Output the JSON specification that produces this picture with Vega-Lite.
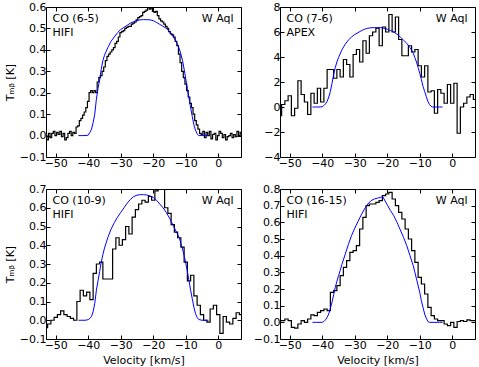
{
  "$schema": "https://vega.github.io/schema/vega-lite/v6.json",
  "padding": {"left": 3, "top": 0, "right": 0, "bottom": 0},
  "background": "white",
  "datasets": {
    "o1": [
      {"v":-53,"t":0.0},{"v":-52.5,"t":-0.02},{"v":-52,"t":0.01},{"v":-51.5,"t":-0.01},{"v":-51,"t":0.01},{"v":-50.5,"t":0.02},{"v":-50,"t":0.0},{"v":-49.5,"t":0.015},{"v":-49,"t":0.005},{"v":-48.5,"t":0.02},{"v":-48,"t":-0.005},{"v":-47.5,"t":0.01},{"v":-47,"t":-0.02},{"v":-46.5,"t":-0.01},{"v":-46,"t":0.01},{"v":-45.5,"t":0.02},{"v":-45,"t":0.0},{"v":-44.5,"t":0.015},{"v":-44,"t":0.01},{"v":-43.5,"t":0.04},{"v":-43,"t":0.045},{"v":-42.5,"t":0.07},{"v":-42,"t":0.08},{"v":-41.5,"t":0.095},{"v":-41,"t":0.11},{"v":-40.5,"t":0.13},{"v":-40,"t":0.16},{"v":-39.5,"t":0.2},{"v":-39,"t":0.21},{"v":-38.5,"t":0.2},{"v":-38,"t":0.21},{"v":-37.5,"t":0.2},{"v":-37,"t":0.25},{"v":-36.5,"t":0.27},{"v":-36,"t":0.28},{"v":-35.5,"t":0.3},{"v":-35,"t":0.32},{"v":-34.5,"t":0.35},{"v":-34,"t":0.37},{"v":-33.5,"t":0.38},{"v":-33,"t":0.39},{"v":-32.5,"t":0.4},{"v":-32,"t":0.41},{"v":-31.5,"t":0.43},{"v":-31,"t":0.44},{"v":-30.5,"t":0.46},{"v":-30,"t":0.48},{"v":-29.5,"t":0.485},{"v":-29,"t":0.49},{"v":-28.5,"t":0.5},{"v":-28,"t":0.505},{"v":-27.5,"t":0.51},{"v":-27,"t":0.51},{"v":-26.5,"t":0.52},{"v":-26,"t":0.525},{"v":-25.5,"t":0.53},{"v":-25,"t":0.54},{"v":-24.5,"t":0.55},{"v":-24,"t":0.555},{"v":-23.5,"t":0.56},{"v":-23,"t":0.575},{"v":-22.5,"t":0.58},{"v":-22,"t":0.585},{"v":-21.5,"t":0.6},{"v":-21,"t":0.59},{"v":-20.5,"t":0.595},{"v":-20,"t":0.58},{"v":-19.5,"t":0.575},{"v":-19,"t":0.58},{"v":-18.5,"t":0.56},{"v":-18,"t":0.545},{"v":-17.5,"t":0.535},{"v":-17,"t":0.53},{"v":-16.5,"t":0.52},{"v":-16,"t":0.51},{"v":-15.5,"t":0.5},{"v":-15,"t":0.485},{"v":-14.5,"t":0.475},{"v":-14,"t":0.47},{"v":-13.5,"t":0.46},{"v":-13,"t":0.44},{"v":-12.5,"t":0.42},{"v":-12,"t":0.38},{"v":-11.5,"t":0.34},{"v":-11,"t":0.3},{"v":-10.5,"t":0.27},{"v":-10,"t":0.24},{"v":-9.5,"t":0.21},{"v":-9,"t":0.18},{"v":-8.5,"t":0.15},{"v":-8,"t":0.13},{"v":-7.5,"t":0.1},{"v":-7,"t":0.07},{"v":-6.5,"t":0.05},{"v":-6,"t":0.03},{"v":-5.5,"t":0.01},{"v":-5,"t":0.005},{"v":-4.5,"t":0.02},{"v":-4,"t":-0.01},{"v":-3.5,"t":0.015},{"v":-3,"t":0.0},{"v":-2.5,"t":0.02},{"v":-2,"t":-0.015},{"v":-1.5,"t":0.005},{"v":-1,"t":0.01},{"v":-0.5,"t":-0.02},{"v":0,"t":0.0},{"v":0.5,"t":0.02},{"v":1,"t":0.01},{"v":1.5,"t":-0.01},{"v":2,"t":0.005},{"v":2.5,"t":-0.02},{"v":3,"t":-0.005},{"v":3.5,"t":0.0},{"v":4,"t":0.01},{"v":4.5,"t":-0.01},{"v":5,"t":0.005},{"v":5.5,"t":-0.005},{"v":6,"t":0.02},{"v":6.5,"t":0.0},{"v":7,"t":0.015}
    ],
    "m1": [
      {"v":-43,"t":0},{"v":-42,"t":0},{"v":-41,"t":0},{"v":-40,"t":0.002},{"v":-39.5,"t":0.015},{"v":-39,"t":0.03},{"v":-38.5,"t":0.06},{"v":-38,"t":0.1},{"v":-37.5,"t":0.17},{"v":-37,"t":0.22},{"v":-36.5,"t":0.26},{"v":-36,"t":0.31},{"v":-35.5,"t":0.35},{"v":-35,"t":0.375},{"v":-34,"t":0.41},{"v":-33,"t":0.44},{"v":-32,"t":0.46},{"v":-31,"t":0.48},{"v":-30,"t":0.495},{"v":-29,"t":0.505},{"v":-28,"t":0.515},{"v":-27,"t":0.525},{"v":-26,"t":0.532},{"v":-25,"t":0.537},{"v":-24,"t":0.54},{"v":-23,"t":0.541},{"v":-22,"t":0.541},{"v":-21,"t":0.54},{"v":-20,"t":0.536},{"v":-19,"t":0.528},{"v":-18,"t":0.519},{"v":-17,"t":0.51},{"v":-16,"t":0.5},{"v":-15,"t":0.485},{"v":-14,"t":0.465},{"v":-13,"t":0.44},{"v":-12.5,"t":0.425},{"v":-12,"t":0.405},{"v":-11.5,"t":0.38},{"v":-11,"t":0.35},{"v":-10.5,"t":0.31},{"v":-10,"t":0.265},{"v":-9.5,"t":0.22},{"v":-9,"t":0.175},{"v":-8.5,"t":0.13},{"v":-8,"t":0.09},{"v":-7.5,"t":0.05},{"v":-7,"t":0.025},{"v":-6.5,"t":0.008},{"v":-6,"t":0},{"v":-5,"t":0},{"v":-4,"t":0},{"v":-3,"t":0}
    ],
    "o2": [
      {"v":-53,"t":-0.7},{"v":-52,"t":0.2},{"v":-51,"t":0.5},{"v":-50,"t":0.9},{"v":-49,"t":-0.7},{"v":-48,"t":-0.1},{"v":-47,"t":2.1},{"v":-46,"t":1.0},{"v":-45,"t":0.4},{"v":-44,"t":-0.6},{"v":-43,"t":1.1},{"v":-42,"t":0.3},{"v":-41,"t":1.5},{"v":-40,"t":0.4},{"v":-39,"t":1.5},{"v":-38,"t":3.0},{"v":-37,"t":3.0},{"v":-36,"t":2.3},{"v":-35,"t":3.0},{"v":-34,"t":2.4},{"v":-33,"t":3.8},{"v":-32,"t":3.4},{"v":-31,"t":2.4},{"v":-30,"t":4.2},{"v":-29,"t":4.6},{"v":-28,"t":3.6},{"v":-27,"t":5.3},{"v":-26,"t":4.3},{"v":-25,"t":5.7},{"v":-24,"t":6.0},{"v":-23,"t":6.3},{"v":-22,"t":4.9},{"v":-21,"t":6.4},{"v":-20,"t":6.0},{"v":-19,"t":7.4},{"v":-18,"t":6.0},{"v":-17,"t":7.2},{"v":-16,"t":5.4},{"v":-15,"t":4.1},{"v":-14,"t":4.1},{"v":-13,"t":4.9},{"v":-12,"t":4.4},{"v":-11,"t":4.6},{"v":-10,"t":3.3},{"v":-9,"t":2.4},{"v":-8,"t":3.3},{"v":-7,"t":1.2},{"v":-6,"t":1.3},{"v":-5,"t":-0.5},{"v":-4,"t":1.4},{"v":-3,"t":1.1},{"v":-2,"t":0.3},{"v":-1,"t":1.8},{"v":0,"t":0.3},{"v":1,"t":1.9},{"v":2,"t":-2.1},{"v":3,"t":0.0},{"v":4,"t":0.3},{"v":5,"t":0.8},{"v":6,"t":1.0},{"v":7,"t":0.6}
    ],
    "m2": [
      {"v":-43,"t":0},{"v":-42,"t":0},{"v":-41,"t":0},{"v":-40,"t":0.02},{"v":-39.5,"t":0.12},{"v":-39,"t":0.25},{"v":-38.5,"t":0.45},{"v":-38,"t":0.8},{"v":-37.5,"t":1.25},{"v":-37,"t":1.9},{"v":-36.5,"t":2.6},{"v":-36,"t":3.15},{"v":-35.5,"t":3.6},{"v":-35,"t":3.95},{"v":-34,"t":4.55},{"v":-33,"t":5.0},{"v":-32,"t":5.35},{"v":-31,"t":5.6},{"v":-30,"t":5.8},{"v":-29,"t":5.95},{"v":-28,"t":6.1},{"v":-27,"t":6.22},{"v":-26,"t":6.3},{"v":-25,"t":6.34},{"v":-24,"t":6.35},{"v":-23,"t":6.36},{"v":-22,"t":6.35},{"v":-21,"t":6.3},{"v":-20,"t":6.22},{"v":-19,"t":6.12},{"v":-18,"t":6.0},{"v":-17,"t":5.82},{"v":-16,"t":5.6},{"v":-15,"t":5.35},{"v":-14,"t":5.1},{"v":-13,"t":4.75},{"v":-12.5,"t":4.55},{"v":-12,"t":4.3},{"v":-11.5,"t":3.95},{"v":-11,"t":3.6},{"v":-10.5,"t":3.15},{"v":-10,"t":2.7},{"v":-9.5,"t":2.2},{"v":-9,"t":1.65},{"v":-8.5,"t":1.25},{"v":-8,"t":0.85},{"v":-7.5,"t":0.45},{"v":-7,"t":0.2},{"v":-6.5,"t":0.05},{"v":-6,"t":0},{"v":-5,"t":0},{"v":-4,"t":0},{"v":-3,"t":0}
    ],
    "o3": [
      {"v":-53,"t":-0.04},{"v":-52,"t":-0.02},{"v":-51,"t":0.0},{"v":-50,"t":0.015},{"v":-49,"t":0.03},{"v":-48,"t":0.05},{"v":-47,"t":0.03},{"v":-46,"t":0.02},{"v":-45,"t":0.01},{"v":-44,"t":0.0},{"v":-43,"t":0.1},{"v":-42,"t":0.16},{"v":-41,"t":0.13},{"v":-40,"t":0.15},{"v":-39,"t":0.11},{"v":-38,"t":0.25},{"v":-37,"t":0.3},{"v":-36,"t":0.31},{"v":-35,"t":0.22},{"v":-34,"t":0.22},{"v":-33,"t":0.22},{"v":-32,"t":0.38},{"v":-31,"t":0.44},{"v":-30,"t":0.4},{"v":-29,"t":0.43},{"v":-28,"t":0.5},{"v":-27,"t":0.46},{"v":-26,"t":0.55},{"v":-25,"t":0.59},{"v":-24,"t":0.62},{"v":-23,"t":0.64},{"v":-22,"t":0.63},{"v":-21,"t":0.66},{"v":-20,"t":0.64},{"v":-19,"t":0.69},{"v":-18,"t":0.7},{"v":-17,"t":0.7},{"v":-16,"t":0.6},{"v":-15,"t":0.57},{"v":-14,"t":0.51},{"v":-13,"t":0.47},{"v":-12,"t":0.44},{"v":-11,"t":0.39},{"v":-10,"t":0.31},{"v":-9,"t":0.21},{"v":-8,"t":0.24},{"v":-7,"t":0.13},{"v":-6,"t":0.08},{"v":-5,"t":0.03},{"v":-4,"t":0.0},{"v":-3,"t":-0.01},{"v":-2,"t":0.06},{"v":-1,"t":0.08},{"v":0,"t":0.03},{"v":1,"t":-0.07},{"v":2,"t":0.02},{"v":3,"t":-0.01},{"v":4,"t":-0.02},{"v":5,"t":0.01},{"v":6,"t":0.04},{"v":7,"t":0.03}
    ],
    "m3": [
      {"v":-43,"t":0},{"v":-42,"t":0},{"v":-41,"t":0},{"v":-40,"t":0.003},{"v":-39.5,"t":0.01},{"v":-39,"t":0.02},{"v":-38.5,"t":0.045},{"v":-38,"t":0.09},{"v":-37.5,"t":0.16},{"v":-37,"t":0.21},{"v":-36.5,"t":0.26},{"v":-36,"t":0.31},{"v":-35.5,"t":0.35},{"v":-35,"t":0.385},{"v":-34,"t":0.44},{"v":-33,"t":0.485},{"v":-32,"t":0.52},{"v":-31,"t":0.55},{"v":-30,"t":0.575},{"v":-29,"t":0.6},{"v":-28,"t":0.625},{"v":-27,"t":0.645},{"v":-26,"t":0.66},{"v":-25,"t":0.667},{"v":-24,"t":0.67},{"v":-23,"t":0.67},{"v":-22,"t":0.668},{"v":-21,"t":0.663},{"v":-20,"t":0.655},{"v":-19,"t":0.64},{"v":-18,"t":0.62},{"v":-17,"t":0.6},{"v":-16,"t":0.575},{"v":-15,"t":0.545},{"v":-14,"t":0.51},{"v":-13,"t":0.475},{"v":-12,"t":0.44},{"v":-11.5,"t":0.41},{"v":-11,"t":0.38},{"v":-10.5,"t":0.345},{"v":-10,"t":0.305},{"v":-9.5,"t":0.26},{"v":-9,"t":0.21},{"v":-8.5,"t":0.16},{"v":-8,"t":0.115},{"v":-7.5,"t":0.07},{"v":-7,"t":0.035},{"v":-6.5,"t":0.015},{"v":-6,"t":0.004},{"v":-5,"t":0},{"v":-4,"t":0},{"v":-3,"t":0}
    ],
    "o4": [
      {"v":-53,"t":0.01},{"v":-52,"t":0.01},{"v":-51,"t":0.02},{"v":-50,"t":0.01},{"v":-49,"t":-0.03},{"v":-48,"t":-0.035},{"v":-47,"t":-0.01},{"v":-46,"t":0.01},{"v":-45,"t":0.0},{"v":-44,"t":0.02},{"v":-43,"t":0.045},{"v":-42,"t":0.04},{"v":-41,"t":0.06},{"v":-40,"t":0.07},{"v":-39,"t":0.08},{"v":-38,"t":0.07},{"v":-37,"t":0.18},{"v":-36,"t":0.19},{"v":-35,"t":0.22},{"v":-34,"t":0.28},{"v":-33,"t":0.33},{"v":-32,"t":0.37},{"v":-31,"t":0.42},{"v":-30,"t":0.43},{"v":-29,"t":0.46},{"v":-28,"t":0.56},{"v":-27,"t":0.63},{"v":-26,"t":0.7},{"v":-25,"t":0.71},{"v":-24,"t":0.71},{"v":-23,"t":0.72},{"v":-22,"t":0.73},{"v":-21,"t":0.76},{"v":-20,"t":0.77},{"v":-19,"t":0.78},{"v":-18,"t":0.74},{"v":-17,"t":0.7},{"v":-16,"t":0.66},{"v":-15,"t":0.62},{"v":-14,"t":0.56},{"v":-13,"t":0.5},{"v":-12,"t":0.43},{"v":-11,"t":0.36},{"v":-10,"t":0.27},{"v":-9,"t":0.23},{"v":-8,"t":0.17},{"v":-7,"t":0.09},{"v":-6,"t":0.04},{"v":-5,"t":0.02},{"v":-4,"t":0.01},{"v":-3,"t":0.01},{"v":-2,"t":-0.01},{"v":-1,"t":-0.02},{"v":0,"t":0.0},{"v":1,"t":-0.03},{"v":2,"t":0.005},{"v":3,"t":0.01},{"v":4,"t":0.005},{"v":5,"t":0.015},{"v":6,"t":0.01},{"v":7,"t":0.01}
    ],
    "m4": [
      {"v":-43,"t":0},{"v":-42,"t":0},{"v":-41,"t":0},{"v":-40,"t":0},{"v":-39.5,"t":0.005},{"v":-39,"t":0.015},{"v":-38.5,"t":0.03},{"v":-38,"t":0.05},{"v":-37.5,"t":0.085},{"v":-37,"t":0.12},{"v":-36.5,"t":0.165},{"v":-36,"t":0.21},{"v":-35,"t":0.28},{"v":-34.5,"t":0.31},{"v":-34,"t":0.345},{"v":-33,"t":0.405},{"v":-32,"t":0.465},{"v":-31,"t":0.52},{"v":-30,"t":0.565},{"v":-29,"t":0.605},{"v":-28,"t":0.645},{"v":-27,"t":0.68},{"v":-26,"t":0.71},{"v":-25,"t":0.73},{"v":-24,"t":0.74},{"v":-23,"t":0.745},{"v":-22,"t":0.75},{"v":-21.4,"t":0.755},{"v":-21,"t":0.74},{"v":-20,"t":0.705},{"v":-19,"t":0.67},{"v":-18,"t":0.64},{"v":-17,"t":0.6},{"v":-16,"t":0.555},{"v":-15,"t":0.51},{"v":-14,"t":0.46},{"v":-13,"t":0.4},{"v":-12,"t":0.34},{"v":-11,"t":0.26},{"v":-10,"t":0.18},{"v":-9.5,"t":0.13},{"v":-9,"t":0.09},{"v":-8.5,"t":0.05},{"v":-8,"t":0.025},{"v":-7.5,"t":0.005},{"v":-7,"t":0},{"v":-5,"t":0},{"v":-4,"t":0},{"v":-3,"t":0}
    ]
  },
  "concat": [
    {
      "width": 195, "height": 150,
      "layer": [
        {"data": {"name": "o1"}, "mark": {"type": "line", "interpolate": "step", "color": "black", "strokeWidth": 1.2, "clip": true},
         "encoding": {
           "x": {"field": "v", "type": "quantitative", "scale": {"domain": [-53, 7], "nice": false, "zero": false}, "axis": {"orient": "bottom", "values": [-50,-40,-30,-20,-10,0], "title": null}},
           "y": {"field": "t", "type": "quantitative", "scale": {"domain": [-0.1, 0.6], "nice": false, "zero": false}, "axis": {"orient": "left", "values": [-0.1,0,0.1,0.2,0.3,0.4,0.5,0.6], "format": ".1f", "title": "Tₘᵦ [K]"}}}},
        {"data": {"name": "m1"}, "mark": {"type": "line", "color": "#0000ff", "strokeWidth": 1, "clip": true},
         "encoding": {
           "x": {"field": "v", "type": "quantitative", "axis": {"orient": "top", "values": [-50,-40,-30,-20,-10,0], "labels": false, "title": null}},
           "y": {"field": "t", "type": "quantitative", "axis": {"orient": "right", "values": [-0.1,0,0.1,0.2,0.3,0.4,0.5,0.6], "labels": false, "title": null}}}},
        {"data": {"values": [{}]}, "mark": {"type": "text", "align": "left", "baseline": "alphabetic", "lineHeight": 13.6, "text": ["CO (6-5)", "HIFI"]},
         "encoding": {"x": {"datum": -51, "type": "quantitative", "axis": null}, "y": {"datum": 0.529, "type": "quantitative", "axis": null}}},
        {"data": {"values": [{}]}, "mark": {"type": "text", "align": "right", "baseline": "alphabetic", "text": "W Aql"},
         "encoding": {"x": {"datum": 4.7, "type": "quantitative", "axis": null}, "y": {"datum": 0.529, "type": "quantitative", "axis": null}}}
      ],
      "resolve": {"axis": {"x": "independent", "y": "independent"}}
    },
    {
      "width": 195, "height": 150,
      "layer": [
        {"data": {"name": "o2"}, "mark": {"type": "line", "interpolate": "step", "color": "black", "strokeWidth": 1.2, "clip": true},
         "encoding": {
           "x": {"field": "v", "type": "quantitative", "scale": {"domain": [-53, 7], "nice": false, "zero": false}, "axis": {"orient": "bottom", "values": [-50,-40,-30,-20,-10,0], "title": null}},
           "y": {"field": "t", "type": "quantitative", "scale": {"domain": [-4, 8], "nice": false, "zero": false}, "axis": {"orient": "left", "values": [-4,-2,0,2,4,6,8], "format": "d", "title": null}}}},
        {"data": {"name": "m2"}, "mark": {"type": "line", "color": "#0000ff", "strokeWidth": 1, "clip": true},
         "encoding": {
           "x": {"field": "v", "type": "quantitative", "axis": {"orient": "top", "values": [-50,-40,-30,-20,-10,0], "labels": false, "title": null}},
           "y": {"field": "t", "type": "quantitative", "axis": {"orient": "right", "values": [-4,-2,0,2,4,6,8], "labels": false, "title": null}}}},
        {"data": {"values": [{}]}, "mark": {"type": "text", "align": "left", "baseline": "alphabetic", "lineHeight": 13.6, "text": ["CO (7-6)", "APEX"]},
         "encoding": {"x": {"datum": -51, "type": "quantitative", "axis": null}, "y": {"datum": 6.78, "type": "quantitative", "axis": null}}},
        {"data": {"values": [{}]}, "mark": {"type": "text", "align": "right", "baseline": "alphabetic", "text": "W Aql"},
         "encoding": {"x": {"datum": 4.7, "type": "quantitative", "axis": null}, "y": {"datum": 6.78, "type": "quantitative", "axis": null}}}
      ],
      "resolve": {"axis": {"x": "independent", "y": "independent"}}
    },
    {
      "width": 195, "height": 150,
      "layer": [
        {"data": {"name": "o3"}, "mark": {"type": "line", "interpolate": "step", "color": "black", "strokeWidth": 1.2, "clip": true},
         "encoding": {
           "x": {"field": "v", "type": "quantitative", "scale": {"domain": [-53, 7], "nice": false, "zero": false}, "axis": {"orient": "bottom", "values": [-50,-40,-30,-20,-10,0], "title": "Velocity [km/s]"}},
           "y": {"field": "t", "type": "quantitative", "scale": {"domain": [-0.1, 0.7], "nice": false, "zero": false}, "axis": {"orient": "left", "values": [-0.1,0,0.1,0.2,0.3,0.4,0.5,0.6,0.7], "format": ".1f", "title": "Tₘᵦ [K]"}}}},
        {"data": {"name": "m3"}, "mark": {"type": "line", "color": "#0000ff", "strokeWidth": 1, "clip": true},
         "encoding": {
           "x": {"field": "v", "type": "quantitative", "axis": {"orient": "top", "values": [-50,-40,-30,-20,-10,0], "labels": false, "title": null}},
           "y": {"field": "t", "type": "quantitative", "axis": {"orient": "right", "values": [-0.1,0,0.1,0.2,0.3,0.4,0.5,0.6,0.7], "labels": false, "title": null}}}},
        {"data": {"values": [{}]}, "mark": {"type": "text", "align": "left", "baseline": "alphabetic", "lineHeight": 13.6, "text": ["CO (10-9)", "HIFI"]},
         "encoding": {"x": {"datum": -51, "type": "quantitative", "axis": null}, "y": {"datum": 0.619, "type": "quantitative", "axis": null}}},
        {"data": {"values": [{}]}, "mark": {"type": "text", "align": "right", "baseline": "alphabetic", "text": "W Aql"},
         "encoding": {"x": {"datum": 4.7, "type": "quantitative", "axis": null}, "y": {"datum": 0.619, "type": "quantitative", "axis": null}}}
      ],
      "resolve": {"axis": {"x": "independent", "y": "independent"}}
    },
    {
      "width": 195, "height": 150,
      "layer": [
        {"data": {"name": "o4"}, "mark": {"type": "line", "interpolate": "step", "color": "black", "strokeWidth": 1.2, "clip": true},
         "encoding": {
           "x": {"field": "v", "type": "quantitative", "scale": {"domain": [-53, 7], "nice": false, "zero": false}, "axis": {"orient": "bottom", "values": [-50,-40,-30,-20,-10,0], "title": "Velocity [km/s]"}},
           "y": {"field": "t", "type": "quantitative", "scale": {"domain": [-0.1, 0.8], "nice": false, "zero": false}, "axis": {"orient": "left", "values": [-0.1,0,0.1,0.2,0.3,0.4,0.5,0.6,0.7,0.8], "format": ".1f", "title": null}}}},
        {"data": {"name": "m4"}, "mark": {"type": "line", "color": "#0000ff", "strokeWidth": 1, "clip": true},
         "encoding": {
           "x": {"field": "v", "type": "quantitative", "axis": {"orient": "top", "values": [-50,-40,-30,-20,-10,0], "labels": false, "title": null}},
           "y": {"field": "t", "type": "quantitative", "axis": {"orient": "right", "values": [-0.1,0,0.1,0.2,0.3,0.4,0.5,0.6,0.7,0.8], "labels": false, "title": null}}}},
        {"data": {"values": [{}]}, "mark": {"type": "text", "align": "left", "baseline": "alphabetic", "lineHeight": 13.6, "text": ["CO (16-15)", "HIFI"]},
         "encoding": {"x": {"datum": -51, "type": "quantitative", "axis": null}, "y": {"datum": 0.709, "type": "quantitative", "axis": null}}},
        {"data": {"values": [{}]}, "mark": {"type": "text", "align": "right", "baseline": "alphabetic", "text": "W Aql"},
         "encoding": {"x": {"datum": 4.7, "type": "quantitative", "axis": null}, "y": {"datum": 0.709, "type": "quantitative", "axis": null}}}
      ],
      "resolve": {"axis": {"x": "independent", "y": "independent"}}
    }
  ],
  "columns": 2,
  "spacing": {"row": 32, "column": 39},
  "bounds": "flush",
  "config": {
    "font": "DejaVu Sans",
    "view": {"stroke": "black", "strokeWidth": 1},
    "axis": {"grid": false, "domain": false, "ticks": true, "tickColor": "black", "tickSize": -4, "tickWidth": 1, "labelFont": "DejaVu Sans", "labelFontSize": 11, "labelColor": "black", "labelPadding": 4, "labelOverlap": false, "labelFlush": false, "titleFont": "DejaVu Sans", "titleFontSize": 11, "titleFontWeight": "normal", "titleColor": "black", "titlePadding": 4},
    "text": {"font": "DejaVu Sans", "fontSize": 11, "color": "black"}
  }
}
